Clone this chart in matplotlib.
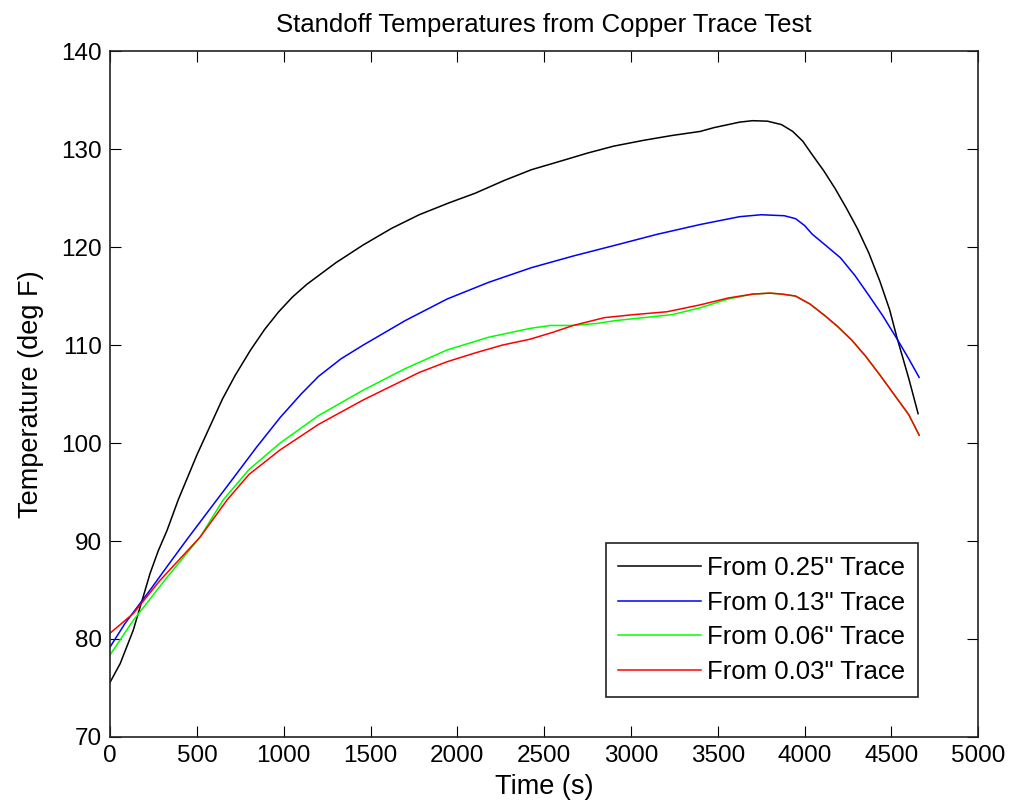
# Standoff temperatures from copper trace test

from matplotlib import pyplot as plt

plt.rcParams['font.family'] = ['Liberation Sans', 'DejaVu Sans']

# 0.25" trace
t_025 = [0, 58, 133, 190, 230, 277, 328, 392, 500, 647, 720, 809, 890, 971, 1050, 1133,
         1300, 1456, 1620, 1780, 1950, 2103, 2270, 2427, 2600, 2751, 2900, 3074, 3240,
         3398, 3480, 3560, 3625, 3700, 3786, 3867, 3932, 3990, 4045, 4110, 4175, 4240,
         4304, 4370, 4434, 4490, 4530, 4600, 4654]
T_025 = [75.6, 77.5, 80.9, 84.3, 86.7, 89.0, 91.1, 94.2, 98.8, 104.5, 106.9, 109.5, 111.6,
         113.4, 114.9, 116.2, 118.4, 120.2, 121.9, 123.3, 124.5, 125.5, 126.8, 127.9, 128.8,
         129.6, 130.3, 130.9, 131.4, 131.8, 132.2, 132.5, 132.75, 132.9, 132.85, 132.5,
         131.8, 130.8, 129.4, 127.8, 126.0, 124.0, 121.9, 119.4, 116.5, 113.6, 110.9,
         106.6, 103.0]

# 0.13" trace
t_013 = [0, 86, 230, 328, 444, 576, 700, 840, 979, 1100, 1200, 1330, 1458, 1700, 1941,
         2180, 2427, 2670, 2912, 3150, 3398, 3625, 3750, 3883, 3948, 4000, 4045, 4120,
         4207, 4290, 4369, 4450, 4530, 4600, 4660]
T_013 = [79.2, 81.6, 85.0, 87.4, 90.2, 93.3, 96.2, 99.5, 102.6, 105.0, 106.8, 108.6, 110.0,
         112.5, 114.7, 116.4, 117.9, 119.1, 120.2, 121.3, 122.3, 123.1, 123.3, 123.2, 122.9,
         122.2, 121.3, 120.2, 118.9, 117.1, 115.1, 113.0, 110.7, 108.6, 106.7]

# 0.06" trace
t_006 = [0, 133, 328, 518, 651, 800, 979, 1200, 1458, 1700, 1941, 2180, 2419, 2535, 2667,
         2800, 2912, 3074, 3236, 3398, 3560, 3700, 3800, 3870, 3948, 4030, 4110, 4190,
         4272, 4350, 4440, 4530, 4600, 4660]
T_006 = [78.4, 81.9, 86.3, 90.4, 94.2, 97.3, 100.0, 102.8, 105.4, 107.6, 109.5, 110.8, 111.7,
         112.0, 112.0, 112.2, 112.5, 112.8, 113.1, 113.8, 114.7, 115.2, 115.3, 115.2, 115.0,
         114.2, 113.1, 111.9, 110.5, 108.9, 106.8, 104.6, 102.9, 100.8]

# 0.03" trace
t_003 = [0, 133, 288, 518, 674, 800, 979, 1200, 1458, 1780, 1941, 2103, 2260, 2419, 2550,
         2667, 2848, 3013, 3208, 3398, 3560, 3700, 3800, 3870, 3948, 4030, 4110, 4190,
         4272, 4350, 4440, 4530, 4600, 4660]
T_003 = [80.6, 82.6, 86.0, 90.4, 94.2, 96.8, 99.3, 101.9, 104.4, 107.2, 108.3, 109.2, 110.0,
         110.6, 111.3, 112.0, 112.8, 113.1, 113.4, 114.1, 114.8, 115.2, 115.3, 115.2, 115.0,
         114.2, 113.1, 111.9, 110.5, 108.9, 106.8, 104.6, 102.9, 100.8]

fig = plt.figure(figsize=(10.2, 8.05), dpi=100)
ax = fig.add_axes([0.108, 0.0845, 0.851, 0.852])

ax.plot(t_025, T_025, color='black', lw=1.1, label='From 0.25" Trace')
ax.plot(t_013, T_013, color='#0000ff', lw=1.1, label='From 0.13" Trace')
ax.plot(t_006, T_006, color='#00ff00', lw=1.1, label='From 0.06" Trace')
ax.plot(t_003, T_003, color='#ff0000', lw=1.1, label='From 0.03" Trace')

ax.set_xlim(0, 5000)
ax.set_ylim(70, 140)
ax.set_xticks(range(0, 5001, 500))
ax.set_yticks(range(70, 141, 10))
ax.tick_params(direction='in', length=8, top=True, right=True, labelsize=17.5, pad=6)
for s in ax.spines.values():
    s.set_linewidth(1.2)
    s.set_color('#222222')

ax.set_xlabel('Time (s)', fontsize=19.5, labelpad=5)
ax.set_ylabel('Temperature (deg F)', fontsize=19.5, labelpad=12)
ax.set_title('Standoff Temperatures from Copper Trace Test', fontsize=18.5, pad=14)

leg = ax.legend(loc='lower right', bbox_to_anchor=(0.9, 0.134), bbox_transform=fig.transFigure,
                fontsize=18.5, fancybox=False, framealpha=1, edgecolor='#222222',
                handlelength=3.2, handletextpad=0.25, borderpad=0.5, labelspacing=0.42,
                borderaxespad=0)
leg.get_frame().set_linewidth(1.2)

plt.savefig('out.png')
